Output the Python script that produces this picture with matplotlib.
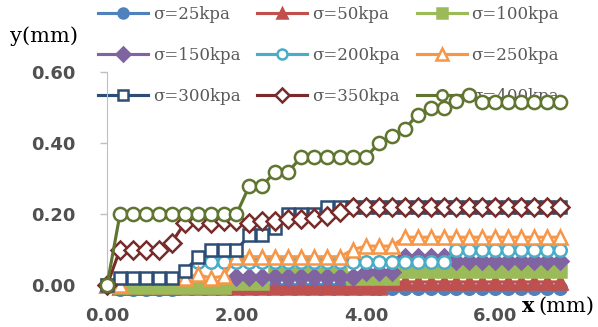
import numpy as np
import matplotlib
matplotlib.use("Agg")
import matplotlib.pyplot as plt

nan = np.nan

x_mm = [0.0, 0.2, 0.4, 0.6, 0.8, 1.0, 1.2, 1.4, 1.6, 1.8, 2.0, 2.2, 2.4, 2.6, 2.8, 3.0, 3.2, 3.4,
        3.6, 3.8, 4.0, 4.2, 4.4, 4.6, 4.8, 5.0, 5.2, 5.4, 5.6, 5.8, 6.0, 6.2, 6.4, 6.6, 6.8, 7.0]

s25 = [0, -0.01, -0.01, -0.01, -0.01, -0.01] + [-0.005] * 15 + [-0.008] * 15
s50 = [0] + [-0.004] * 12 + [-0.006] * 9 + [0.008] + [0.009] * 13
s100 = [0] + [-0.005] * 9 + [0.005] * 3 + [0.03] * 6 + [0.02] * 4 + [0.04] * 13
s150 = [0] + [nan] * 9 + [0.022] * 10 + [0.037] * 3 + [0.08] * 4 + [0.067] * 9
s200 = [0] + [nan] * 6 + [0.065] * 20 + [0.10] * 9
s250 = [0, 0, nan, nan, nan, nan, 0.02, 0.03, 0.02, 0.025, 0.08] + [0.08] * 8 + \
       [0.10, 0.11, 0.11, 0.11] + [0.135] * 13
s300 = [0] + [0.02] * 5 + [0.04, 0.078, 0.10, 0.10, 0.10, 0.14, 0.14, 0.16, 0.20, 0.20, 0.20] + [0.22] * 19
s350 = [0, 0.10, 0.10, 0.10, 0.10, 0.12, 0.175, 0.18, 0.175, 0.18, 0.18, 0.175, 0.18, 0.18,
        0.185, 0.185, 0.19, 0.195, 0.205] + [0.22] * 17
s400 = [0] + [0.20] * 10 + [0.28, 0.28, 0.32, 0.32] + [0.36] * 6 + \
       [0.40, 0.42, 0.44, 0.48, 0.50, 0.50, 0.52, 0.535] + [0.515] * 7

labels = ["σ=25kpa", "σ=50kpa", "σ=100kpa", "σ=150kpa", "σ=200kpa",
          "σ=250kpa", "σ=300kpa", "σ=350kpa", "σ=400kpa"]
series = [s25, s50, s100, s150, s200, s250, s300, s350, s400]
colors = ["#4F81BD", "#C0504D", "#9BBB59", "#8064A2", "#4BACC6",
          "#F79646", "#2C4D75", "#772C2A", "#5F7530"]
markers = ["o", "^", "s", "D", "o", "^", "s", "D", "o"]
filled = [True, True, True, True, False, False, False, False, False]
msizes = [9, 9.5, 8.5, 8.5, 9, 10, 8.5, 9, 9.5]

fig = plt.figure(figsize=(5.98, 3.27), dpi=100)
ax = fig.add_axes([0.179, 0.128, 0.7575, 0.6514])

lines = []
for i in range(len(series)):
    face = colors[i] if filled[i] else "white"
    l, = ax.plot(x_mm, series[i], color=colors[i], lw=2.25, marker=markers[i], ms=msizes[i],
                 mfc=face, mec=colors[i], mew=1.8, clip_on=False, zorder=3 + i, label=labels[i])
    lines.append(l)

ax.set_xlim(0, 7)
ax.set_ylim(0, 0.6)
ax.set_xticks([0, 2, 4, 6])
ax.set_xticklabels(["0.00", "2.00", "4.00", "6.00"])
ax.set_yticks([0, 0.2, 0.4, 0.6])
ax.set_yticklabels(["0.00", "0.20", "0.40", "0.60"])
for t in ax.get_xticklabels() + ax.get_yticklabels():
    t.set_fontsize(13)
    t.set_fontweight("bold")
    t.set_color("#505050")
ax.tick_params(axis="y", length=5, width=1, color="#BFBFBF", pad=18)
ax.tick_params(axis="x", length=3, width=1, color="#BFBFBF", pad=13)
for s in ["top", "right"]:
    ax.spines[s].set_visible(False)
ax.spines["left"].set_color("#BFBFBF")
ax.spines["bottom"].set_color("#BFBFBF")

# legend is filled column by column, so reorder to read row by row
order = [0, 3, 6, 1, 4, 7, 2, 5, 8]
leg = ax.legend([lines[k] for k in order], [labels[k] for k in order], ncol=3,
                loc="upper left", bbox_to_anchor=(98 / 598, 1 - 6 / 327),
                bbox_transform=fig.transFigure, frameon=False, borderpad=0, borderaxespad=0,
                handlelength=3.0, handletextpad=0.3, columnspacing=1.0, labelspacing=1.45,
                markerscale=0.8, prop={"family": "DejaVu Serif", "size": 12})
for t in leg.get_texts():
    t.set_color("#595959")
leg.set_zorder(1)

fig.text(10 / 598, 1 - 36 / 327, "y(mm)", family="DejaVu Serif", fontsize=15, va="center", ha="left")
fig.text(522 / 598, 1 - 306 / 327, "x", family="DejaVu Serif", fontweight="bold", fontsize=15,
         va="center", ha="left")
fig.text(538 / 598, 1 - 306 / 327, "(mm)", family="DejaVu Serif", fontsize=15, va="center", ha="left")

plt.savefig("out.png", dpi=100)
